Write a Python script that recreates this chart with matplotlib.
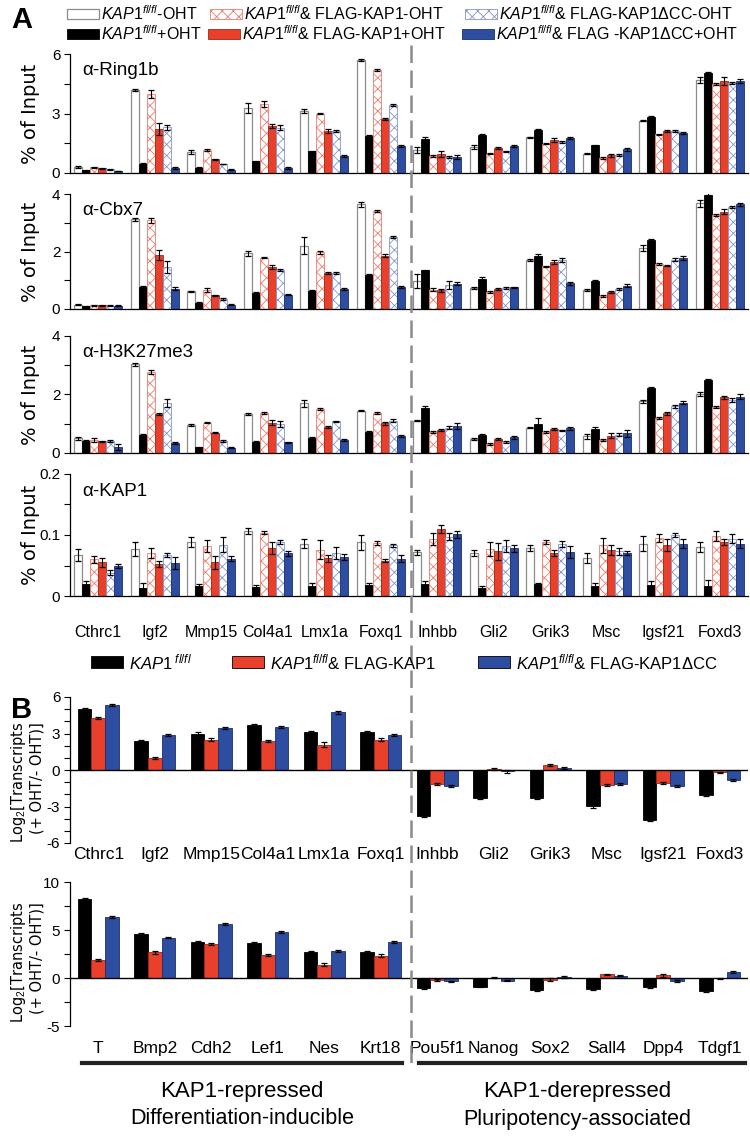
import matplotlib
matplotlib.use('Agg')
import matplotlib.pyplot as plt
from matplotlib.patches import Rectangle
from matplotlib.lines import Line2D
import numpy as np

# ---------------- data ----------------
genes_A = ['Cthrc1', 'Igf2', 'Mmp15', 'Col4a1', 'Lmx1a', 'Foxq1',
           'Inhbb', 'Gli2', 'Grik3', 'Msc', 'Igsf21', 'Foxd3']
genes_B2 = ['T', 'Bmp2', 'Cdh2', 'Lef1', 'Nes', 'Krt18',
            'Pou5f1', 'Nanog', 'Sox2', 'Sall4', 'Dpp4', 'Tdgf1']

# series order: KAP1fl/fl -OHT, +OHT, FLAG-KAP1 -OHT, +OHT, FLAG-KAP1dCC -OHT, +OHT
ring1b = [
    [0.30, 4.20, 1.08, 3.26, 3.13, 5.68, 1.18, 1.31, 1.80, 0.97, 2.64, 4.70],
    [0.13, 0.47, 0.27, 0.59, 1.09, 1.85, 1.70, 1.93, 2.18, 1.39, 2.80, 5.04],
    [0.28, 4.00, 1.16, 3.46, 3.00, 5.18, 0.84, 0.97, 1.48, 0.76, 1.95, 4.49],
    [0.23, 2.20, 0.69, 2.39, 2.12, 2.74, 0.97, 1.28, 1.66, 0.89, 2.10, 4.64],
    [0.18, 2.30, 0.45, 2.29, 2.12, 3.45, 0.80, 1.09, 1.58, 0.89, 2.12, 4.55],
    [0.10, 0.25, 0.17, 0.27, 0.87, 1.34, 0.80, 1.38, 1.76, 1.19, 2.02, 4.64],
]
ring1b_err = [
    [0.03, 0.05, 0.10, 0.25, 0.10, 0.05, 0.15, 0.08, 0.03, 0.03, 0.03, 0.15],
    [0.02, 0.03, 0.02, 0.03, 0.03, 0.05, 0.12, 0.03, 0.03, 0.03, 0.05, 0.03],
    [0.03, 0.20, 0.03, 0.15, 0.03, 0.05, 0.05, 0.03, 0.03, 0.03, 0.03, 0.05],
    [0.02, 0.30, 0.03, 0.10, 0.10, 0.05, 0.15, 0.05, 0.10, 0.08, 0.05, 0.20],
    [0.02, 0.12, 0.02, 0.12, 0.03, 0.05, 0.05, 0.03, 0.05, 0.05, 0.05, 0.05],
    [0.02, 0.05, 0.02, 0.05, 0.05, 0.05, 0.10, 0.05, 0.05, 0.08, 0.03, 0.10],
]
cbx7 = [
    [0.15, 3.12, 0.61, 1.94, 2.20, 3.64, 0.98, 0.73, 1.71, 0.67, 2.12, 3.68],
    [0.09, 0.76, 0.21, 0.55, 0.64, 1.19, 1.34, 1.05, 1.85, 0.97, 2.39, 3.97],
    [0.13, 3.08, 0.65, 1.79, 1.98, 3.42, 0.67, 0.59, 1.48, 0.46, 1.56, 3.27],
    [0.13, 1.88, 0.47, 1.47, 1.26, 1.86, 0.65, 0.70, 1.62, 0.58, 1.51, 3.39],
    [0.12, 1.46, 0.36, 1.36, 1.25, 2.50, 0.84, 0.72, 1.71, 0.69, 1.71, 3.56],
    [0.12, 0.70, 0.15, 0.50, 0.70, 0.76, 0.88, 0.75, 0.89, 0.81, 1.77, 3.65],
]
cbx7_err = [
    [0.02, 0.05, 0.03, 0.08, 0.30, 0.08, 0.25, 0.03, 0.03, 0.03, 0.10, 0.12],
    [0.02, 0.03, 0.02, 0.03, 0.03, 0.03, 0.03, 0.05, 0.05, 0.03, 0.05, 0.05],
    [0.02, 0.10, 0.07, 0.03, 0.05, 0.03, 0.06, 0.03, 0.03, 0.03, 0.03, 0.05],
    [0.02, 0.17, 0.03, 0.07, 0.03, 0.05, 0.06, 0.03, 0.07, 0.03, 0.03, 0.10],
    [0.02, 0.20, 0.03, 0.03, 0.03, 0.03, 0.15, 0.03, 0.07, 0.03, 0.05, 0.03],
    [0.02, 0.05, 0.02, 0.03, 0.03, 0.03, 0.06, 0.03, 0.05, 0.05, 0.06, 0.05],
]
h3k27me3 = [
    [0.51, 3.04, 0.96, 1.33, 1.70, 1.45, 1.11, 0.48, 0.87, 0.57, 1.77, 2.02],
    [0.42, 0.62, 0.20, 0.39, 0.51, 0.73, 1.55, 0.61, 1.00, 0.82, 2.21, 2.49],
    [0.45, 2.78, 1.04, 1.38, 1.51, 1.38, 0.71, 0.32, 0.73, 0.45, 1.19, 1.56],
    [0.40, 1.33, 0.70, 1.04, 0.88, 1.02, 0.79, 0.49, 0.83, 0.59, 1.36, 1.90],
    [0.42, 1.70, 0.42, 1.00, 1.08, 1.11, 0.87, 0.37, 0.77, 0.62, 1.59, 1.81],
    [0.20, 0.34, 0.18, 0.36, 0.45, 0.57, 0.91, 0.53, 0.85, 0.68, 1.72, 1.93],
]
h3k27me3_err = [
    [0.05, 0.05, 0.03, 0.03, 0.12, 0.03, 0.03, 0.03, 0.03, 0.08, 0.05, 0.08],
    [0.03, 0.03, 0.02, 0.03, 0.03, 0.03, 0.05, 0.03, 0.18, 0.08, 0.05, 0.03],
    [0.06, 0.07, 0.03, 0.03, 0.03, 0.03, 0.03, 0.03, 0.03, 0.03, 0.03, 0.03],
    [0.02, 0.03, 0.03, 0.08, 0.03, 0.05, 0.03, 0.03, 0.03, 0.08, 0.05, 0.05],
    [0.03, 0.13, 0.03, 0.10, 0.03, 0.05, 0.05, 0.03, 0.03, 0.05, 0.05, 0.08],
    [0.10, 0.03, 0.02, 0.03, 0.03, 0.03, 0.10, 0.05, 0.05, 0.12, 0.05, 0.08],
]
kap1 = [
    [0.067, 0.077, 0.088, 0.107, 0.086, 0.088, 0.072, 0.071, 0.079, 0.062, 0.086, 0.080],
    [0.020, 0.013, 0.016, 0.015, 0.016, 0.018, 0.020, 0.013, 0.019, 0.016, 0.018, 0.016],
    [0.060, 0.070, 0.082, 0.104, 0.076, 0.087, 0.093, 0.077, 0.089, 0.083, 0.095, 0.098],
    [0.055, 0.053, 0.055, 0.079, 0.062, 0.058, 0.110, 0.073, 0.070, 0.076, 0.083, 0.088],
    [0.038, 0.067, 0.084, 0.088, 0.070, 0.083, 0.097, 0.082, 0.085, 0.073, 0.100, 0.094],
    [0.049, 0.054, 0.061, 0.070, 0.064, 0.061, 0.101, 0.078, 0.072, 0.071, 0.086, 0.086],
]
kap1_err = [
    [0.010, 0.012, 0.008, 0.005, 0.008, 0.012, 0.004, 0.005, 0.005, 0.008, 0.012, 0.008],
    [0.005, 0.008, 0.003, 0.003, 0.005, 0.003, 0.004, 0.004, 0.003, 0.005, 0.006, 0.010],
    [0.006, 0.008, 0.010, 0.003, 0.015, 0.003, 0.010, 0.012, 0.003, 0.012, 0.007, 0.008],
    [0.008, 0.005, 0.010, 0.010, 0.006, 0.003, 0.006, 0.014, 0.005, 0.008, 0.010, 0.005],
    [0.004, 0.003, 0.012, 0.003, 0.010, 0.003, 0.006, 0.010, 0.005, 0.006, 0.004, 0.007],
    [0.003, 0.010, 0.004, 0.004, 0.005, 0.006, 0.006, 0.006, 0.010, 0.003, 0.007, 0.008],
]

# Panel B: log2 fold change (+OHT/-OHT); series: KAP1fl/fl, & FLAG-KAP1, & FLAG-KAP1dCC
b_top = [
    [4.98, 2.41, 3.00, 3.67, 3.12, 3.09, -3.75, -2.27, -2.33, -2.99, -4.10, -2.03],
    [4.27, 0.98, 2.49, 2.35, 2.08, 2.49, -1.15, 0.08, 0.41, -1.23, -1.07, -0.19],
    [5.37, 2.90, 3.47, 3.50, 4.73, 2.84, -1.34, -0.11, 0.19, -1.12, -1.29, -0.79],
]
b_top_err = [
    [0.10, 0.08, 0.10, 0.08, 0.08, 0.10, 0.10, 0.10, 0.08, 0.10, 0.08, 0.12],
    [0.10, 0.05, 0.10, 0.08, 0.20, 0.10, 0.08, 0.05, 0.08, 0.10, 0.10, 0.05],
    [0.08, 0.08, 0.08, 0.08, 0.10, 0.08, 0.08, 0.15, 0.08, 0.08, 0.08, 0.08],
]
b_bot = [
    [8.19, 4.56, 3.76, 3.66, 2.75, 2.72, -1.08, -0.90, -1.25, -1.15, -0.90, -1.32],
    [1.85, 2.68, 3.55, 2.40, 1.39, 2.30, -0.24, 0.03, -0.17, 0.38, 0.28, -0.05],
    [6.37, 4.20, 5.61, 4.81, 2.82, 3.76, -0.35, -0.28, 0.10, 0.24, -0.28, 0.63],
]
b_bot_err = [
    [0.10, 0.10, 0.10, 0.10, 0.08, 0.08, 0.10, 0.08, 0.15, 0.10, 0.12, 0.15],
    [0.10, 0.15, 0.08, 0.08, 0.15, 0.15, 0.12, 0.05, 0.12, 0.05, 0.15, 0.05],
    [0.10, 0.08, 0.10, 0.10, 0.08, 0.08, 0.08, 0.08, 0.08, 0.05, 0.10, 0.10],
]

labels_A = [r'$\mathit{KAP1}^{\mathit{fl/fl}}$-OHT',
            r'$\mathit{KAP1}^{\mathit{fl/fl}}$+OHT',
            r'$\mathit{KAP1}^{\mathit{fl/fl}}$& FLAG-KAP1-OHT',
            r'$\mathit{KAP1}^{\mathit{fl/fl}}$& FLAG-KAP1+OHT',
            r'$\mathit{KAP1}^{\mathit{fl/fl}}$& FLAG-KAP1ΔCC-OHT',
            r'$\mathit{KAP1}^{\mathit{fl/fl}}$& FLAG -KAP1ΔCC+OHT']
labels_B = [r'$\mathit{KAP1}^{\ \mathit{fl/fl}}$',
            r'$\mathit{KAP1}^{\mathit{fl/fl}}$& FLAG-KAP1',
            r'$\mathit{KAP1}^{\mathit{fl/fl}}$& FLAG-KAP1ΔCC']

# ---------------- style ----------------
REG = ['Liberation Sans', 'DejaVu Sans']
plt.rcParams['font.family'] = REG
plt.rcParams['mathtext.fontset'] = 'custom'
plt.rcParams['mathtext.rm'] = 'Liberation Sans'
plt.rcParams['mathtext.it'] = 'Liberation Sans:italic'
plt.rcParams['mathtext.bf'] = 'Liberation Sans:bold'
plt.rcParams['hatch.linewidth'] = 0.6

W, H = 750, 1136
fig = plt.figure(figsize=(7.5, 11.36), dpi=100)

RED = '#e8402a'
BLUE = '#2c4da0'
styles = [
    dict(facecolor='white', edgecolor='#8c8c8c', linewidth=0.9),
    dict(facecolor='black', edgecolor='black', linewidth=0.6),
    dict(facecolor='white', edgecolor='#ee7a6a', hatch='xxx', linewidth=0.6),
    dict(facecolor=RED, edgecolor='#9a2a1a', linewidth=0.6),
    dict(facecolor='white', edgecolor='#8495cc', hatch='xxx', linewidth=0.6),
    dict(facecolor=BLUE, edgecolor='#1c2f6a', linewidth=0.6),
]
stylesB = [styles[1], styles[3], styles[5]]
ekw = dict(ecolor='black', elinewidth=0.8, capsize=2.2, capthick=0.9)


def rect(x0, x1, yt, yb):
    return [x0 / W, 1 - yb / H, (x1 - x0) / W, (yb - yt) / H]


def ftext(x, y, s, **kw):
    fig.text(x / W, 1 - y / H, s, **kw)


X0, X1 = 70, 748


def panel_A(yt, yb, data, err, ymax, major, minor, fmt, name, show_x):
    ax = fig.add_axes(rect(X0, X1, yt, yb))
    x = np.arange(len(genes_A))
    w = 0.142
    for k in range(6):
        ax.bar(x + (k - 2.5) * w, data[k], w, yerr=err[k], error_kw=ekw, **styles[k])
    ax.set_xlim(-0.5, 11.5)
    ax.set_ylim(0, ymax)
    for s in ['top', 'right']:
        ax.spines[s].set_visible(False)
    ax.spines['left'].set_linewidth(0.9)
    ax.spines['bottom'].set_linewidth(0.9)
    ax.set_yticks(major)
    ax.set_yticklabels([fmt(v) for v in major], fontsize=11)
    ax.set_yticks(minor, minor=True)
    ax.tick_params(axis='y', which='both', length=4, width=0.8, pad=3)
    ax.set_xticks(x)
    if show_x:
        ax.set_xticklabels(genes_A, fontsize=11.5)
        ax.tick_params(axis='x', length=0, pad=21)
    else:
        ax.set_xticklabels([])
        ax.tick_params(axis='x', length=0)
    ax.text(0.018, 0.93, name, transform=ax.transAxes, ha='left', va='top',
            fontsize=13.5)
    ftext(30, (yt + yb) / 2, '% of Input', rotation=90, ha='center', va='center',
          fontsize=14, family=['DejaVu Sans'])
    return ax


panel_A(54, 173, ring1b, ring1b_err, 6, [0, 3, 6], [1.5, 4.5],
        lambda v: '%d' % v, 'α-Ring1b', False)
panel_A(194, 309, cbx7, cbx7_err, 4, [0, 2, 4], [1, 3],
        lambda v: '%d' % v, 'α-Cbx7', False)
panel_A(336, 453, h3k27me3, h3k27me3_err, 4, [0, 2, 4], [1, 3],
        lambda v: '%d' % v, 'α-H3K27me3', False)
panel_A(474, 596, kap1, kap1_err, 0.2, [0, 0.1, 0.2], [0.05, 0.15],
        lambda v: '0' if v == 0 else '%.1f' % v, 'α-KAP1', True)


def panel_B(yt, yb, data, err, ylim, major, minor, genes, pad):
    ax = fig.add_axes(rect(X0, X1, yt, yb))
    x = np.arange(len(genes))
    w = 0.24
    for k in range(3):
        ax.bar(x + (k - 1) * w, data[k], w, yerr=err[k], error_kw=ekw, **stylesB[k])
    ax.axhline(0, color='black', lw=1.0, zorder=5)
    ax.set_xlim(-0.5, 11.5)
    ax.set_ylim(*ylim)
    for s in ['top', 'right', 'bottom']:
        ax.spines[s].set_visible(False)
    ax.spines['left'].set_linewidth(0.9)
    ax.set_yticks(major)
    ax.set_yticklabels(['%d' % v for v in major], fontsize=11)
    ax.set_yticks(minor, minor=True)
    ax.tick_params(axis='y', which='both', length=4, width=0.8, pad=3)
    ax.set_xticks(x)
    ax.set_xticklabels(genes, fontsize=12.5)
    ax.tick_params(axis='x', length=0, pad=pad)
    return ax


panel_B(697, 843, b_top, b_top_err, (-6, 6), [-6, -3, 0, 3, 6],
        [-5, -4, -2, -1, 1, 2, 4, 5], genes_A, 3)
panel_B(882, 1026, b_bot, b_bot_err, (-5, 10), [-5, 0, 5, 10],
        [-2.5, 2.5, 7.5], genes_B2, 11)

for yc in (782, 962):
    ftext(19, yc, r'Log$_2$[Transcripts', rotation=90, ha='center', va='center',
          fontsize=10.5, family=['DejaVu Sans'])
    ftext(37, yc - 4, '(+ OHT/- OHT)]', rotation=90, ha='center', va='center',
          fontsize=10.5, family=['DejaVu Sans'])

# ---------------- legends ----------------
ftext(22, 20, 'A', fontsize=21, fontweight='bold', ha='center', va='center')
ftext(22, 710, 'B', fontsize=21, fontweight='bold', ha='center', va='center')

legA_pos = [(67, 14), (67, 34), (210, 14), (208, 34), (465, 14), (462, 34)]
for k, (lx, ly) in enumerate(legA_pos):
    bw, bh = 32, 9
    fig.add_artist(Rectangle((lx / W, 1 - (ly + bh / 2) / H), bw / W, bh / H,
                             transform=fig.transFigure, **styles[k]))
    ftext(lx + bw + 2, ly, labels_A[k], fontsize=11.5, ha='left', va='center')

legB_pos = [91, 232, 478]
for k, lx in enumerate(legB_pos):
    bw, bh = 32, 12
    ly = 662
    st = dict(stylesB[k])
    st['edgecolor'] = 'black'
    fig.add_artist(Rectangle((lx / W, 1 - (ly + bh / 2) / H), bw / W, bh / H,
                             transform=fig.transFigure, **st))
    ftext(lx + bw + 6, ly, labels_B[k], fontsize=12, ha='left', va='center')

# ---------------- dividers & group labels ----------------
fig.add_artist(Line2D([411 / W, 411 / W], [1 - 45 / H, 1 - 1066 / H],
                      transform=fig.transFigure, color='#8a8a8a', lw=1.8,
                      linestyle=(0, (7, 3))))
fig.add_artist(Line2D([82 / W, 402 / W], [1 - 1063 / H] * 2,
                      transform=fig.transFigure, color='#222222', lw=3))
fig.add_artist(Line2D([419 / W, 745 / W], [1 - 1063 / H] * 2,
                      transform=fig.transFigure, color='#222222', lw=3))
ftext(242, 1091, 'KAP1-repressed', fontsize=16, ha='center', va='center')
ftext(242, 1119, 'Differentiation-inducible', fontsize=15.5, ha='center', va='center')
ftext(577, 1091, 'KAP1-derepressed', fontsize=16, ha='center', va='center')
ftext(577, 1119, 'Pluripotency-associated', fontsize=15.5, ha='center', va='center')

fig.savefig('out.png', dpi=100)
